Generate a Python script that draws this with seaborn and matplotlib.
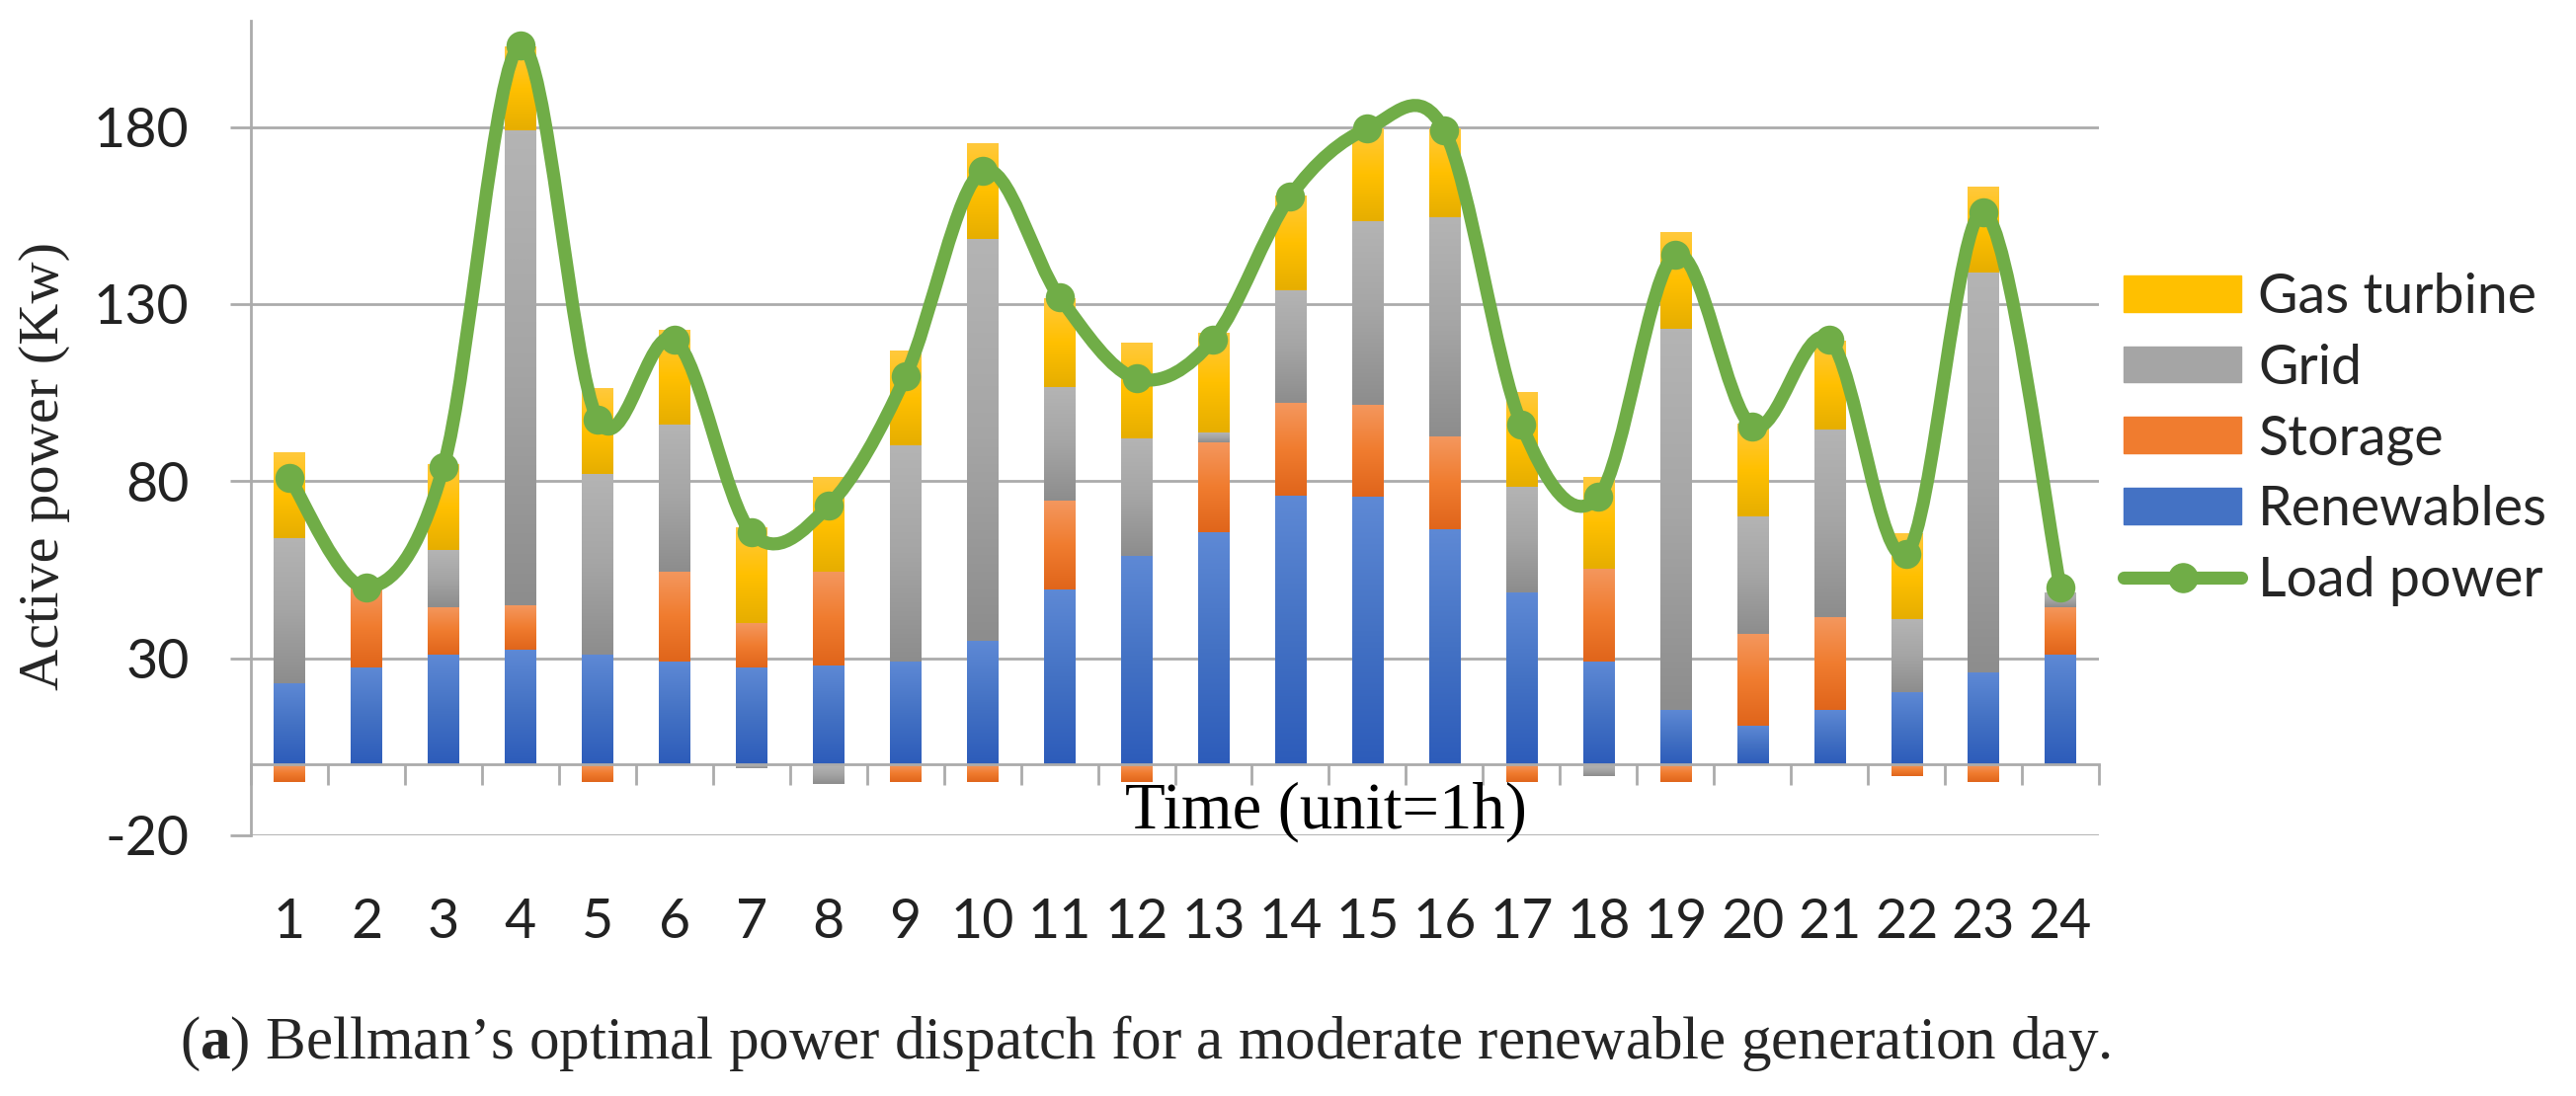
import numpy as np
import matplotlib
matplotlib.use("Agg")
import matplotlib.pyplot as plt
import seaborn as sns
from matplotlib.colors import LinearSegmentedColormap
from matplotlib.patches import Patch, PathPatch
from matplotlib.lines import Line2D
from matplotlib.path import Path

# hourly dispatch (Kw)
hours = [str(h) for h in range(1, 25)]
renewables = [23, 27.5, 31, 32.5, 31, 29, 27.5, 28, 29, 35, 49.5, 59,
              65.5, 76, 75.5, 66.5, 48.5, 29, 15.5, 11, 15.5, 20.5, 26, 31]
storage = [-5, 23, 13.5, 12.5, -5, 25.5, 12.5, 26.5, -5, -5, 25, -5,
           25.5, 26, 26, 26, -5, 26.3, -5, 26, 26, -3.3, -5, 13.5]
grid = [41, 0, 16, 134, 51, 41.5, -1, -5.5, 61, 113.5, 32, 33,
        2.7, 32, 52, 62, 30, -3.3, 107.5, 33, 53, 20.5, 113, 4]
gas_turbine = [24, 0, 24, 23.5, 24, 26.5, 27, 26.5, 26.5, 27, 25, 27,
               28, 26.5, 26, 25, 26.5, 25.7, 27.3, 26, 25, 24, 24, 0]
load_power = [81, 50, 84, 203, 97.5, 120, 65.5, 73, 109.5, 167.5, 132, 109,
              120, 160.5, 179.5, 179, 96, 75.5, 144, 95.5, 120, 59.5, 156, 50]

y_ticks = [-20, 30, 80, 130, 180]

# (label, values, light / base / dark gradient colours)
series = [
    ("Renewables", renewables, ["#5E89D5", "#4472C4", "#2D5CBA"]),
    ("Storage", storage, ["#F4975E", "#F07C2F", "#E0651B"]),
    ("Grid", grid, ["#B4B4B4", "#A5A5A5", "#8D8D8D"]),
    ("Gas turbine", gas_turbine, ["#FFC93C", "#FFC000", "#E6AE00"]),
]

sns.set_theme(style="white")
plt.rcParams["font.family"] = ["Lato", "DejaVu Sans"]
plt.rcParams["axes.unicode_minus"] = False
plt.rcParams["mathtext.fontset"] = "custom"
plt.rcParams["mathtext.rm"] = "Liberation Serif"
plt.rcParams["mathtext.bf"] = "Liberation Serif:bold"

W, H = 2608, 1110
fig = plt.figure(figsize=(W / 100, H / 100), dpi=100)
ax = fig.add_axes([254 / W, 1 - 846 / H, (2125 - 254) / W, (846 - 21) / H])

GRID_C = "#ABABAB"
GREEN = "#70AD47"

x = np.arange(len(hours))
pos_bottom = np.zeros(len(hours))
neg_bottom = np.zeros(len(hours))
grad = np.linspace(0, 1, 128).reshape(-1, 1)

for label, vals, cols in series:
    vals = np.asarray(vals, dtype=float)
    bottom = np.where(vals >= 0, pos_bottom, neg_bottom)
    bars = ax.bar(x, vals, width=0.4, bottom=bottom, color=cols[1],
                  linewidth=0, zorder=2)
    cmap = LinearSegmentedColormap.from_list(label, cols)
    for rect in bars:
        h = rect.get_height()
        if h == 0:
            continue
        y0 = rect.get_y()
        lo, hi = sorted([y0, y0 + h])
        x0 = rect.get_x()
        ax.imshow(grad, cmap=cmap, aspect="auto", origin="upper",
                  extent=(x0, x0 + rect.get_width(), lo, hi),
                  interpolation="bilinear", zorder=2.1)
    pos_bottom += np.clip(vals, 0, None)
    neg_bottom += np.clip(vals, None, 0)


# smoothed load curve (Excel-style Catmull-Rom through the hourly points)
def smooth_path(xs, ys, t=1 / 6):
    n = len(xs)
    verts = [(xs[0], ys[0])]
    codes = [Path.MOVETO]
    for i in range(n - 1):
        a = i - 1 if i > 0 else i
        d = i + 2 if i + 2 < n else i + 1
        c1 = (xs[i] + (xs[i + 1] - xs[a]) * t, ys[i] + (ys[i + 1] - ys[a]) * t)
        c2 = (xs[i + 1] - (xs[d] - xs[i]) * t, ys[i + 1] - (ys[d] - ys[i]) * t)
        verts += [c1, c2, (xs[i + 1], ys[i + 1])]
        codes += [Path.CURVE4] * 3
    return Path(verts, codes)


ax.add_patch(PathPatch(smooth_path(x, load_power), facecolor="none",
                       edgecolor=GREEN, lw=9.5, capstyle="round",
                       joinstyle="round", zorder=5))
sns.scatterplot(x=x, y=load_power, s=450, color=GREEN, edgecolor=GREEN,
                linewidth=0, zorder=6, ax=ax, legend=False)

ax.set_xlim(-0.5, len(hours) - 0.5)
ax.set_ylim(-20, 210)

# axes styling
for side in ["top", "right"]:
    ax.spines[side].set_visible(False)
ax.spines["left"].set_color(GRID_C)
ax.spines["left"].set_linewidth(2)
ax.spines["bottom"].set_position(("data", 0))
ax.spines["bottom"].set_color(GRID_C)
ax.spines["bottom"].set_linewidth(2)

ax.set_yticks(y_ticks)
ax.yaxis.grid(True, color=GRID_C, lw=2, zorder=0)
ax.set_axisbelow(True)
ax.tick_params(axis="y", direction="out", length=15, width=2, color=GRID_C,
               pad=30, labelsize=40, left=True)

ax.set_xticks(x)
ax.set_xticklabels(hours)
ax.set_xticks(np.arange(-0.5, len(hours)), minor=True)
ax.tick_params(axis="x", which="major", length=0, pad=97, labelsize=40)
ax.tick_params(axis="x", which="minor", direction="out", length=15, width=2,
               color=GRID_C, bottom=True)
for lab in ax.get_xticklabels() + ax.get_yticklabels():
    lab.set_color("#222222")

ax.text(13.46, -17.9, "Time (unit=1h)", ha="center", va="baseline",
        family="Liberation Serif", fontsize=48, color="black", zorder=7)

fig.text(45 / W, 1 - 472 / H, "Active power (Kw)", rotation=90,
         ha="center", va="center", family="Liberation Serif", fontsize=42)

fig.text(182 / W, 1 - 1072 / H,
         r"($\mathbf{a}$) Bellman’s optimal power dispatch for a moderate renewable generation day.",
         ha="left", va="baseline", family="Liberation Serif", fontsize=44)

# legend, top to bottom as in the reference
handles = [Patch(color=c[1]) for _, _, c in series[::-1]]
labels = [lab for lab, _, _ in series[::-1]]
handles.append(Line2D([], [], color=GREEN, lw=9.5, marker="o", markersize=21))
labels.append("Load power")
fig.legend(handles, labels, loc="upper left",
           bbox_to_anchor=(2150 / W, 1 - 276 / H), frameon=False,
           fontsize=40, handlelength=2.15, handleheight=0.63,
           handletextpad=0.3, labelspacing=0.37, borderpad=0,
           borderaxespad=0)

fig.savefig("out.png", dpi=100)
